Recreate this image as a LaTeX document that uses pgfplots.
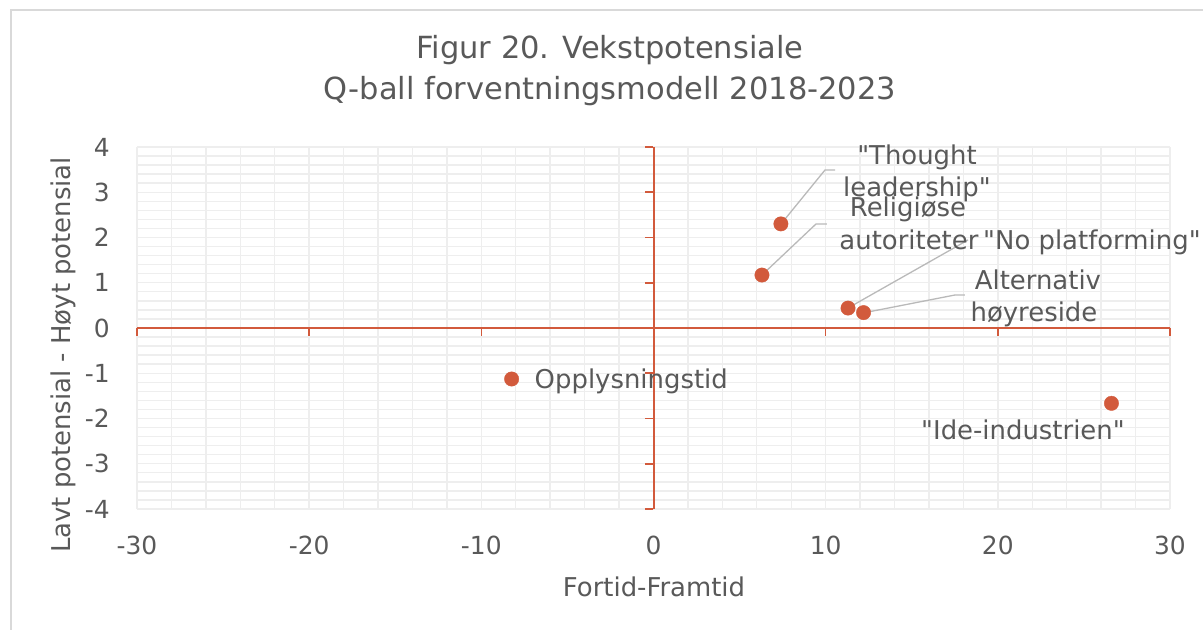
\documentclass[border=0pt]{standalone}
\usepackage{fontspec}
\setmainfont{DejaVu Sans}
\usepackage{pgfplots}
\pgfplotsset{compat=1.18}
\definecolor{pt}{RGB}{210,90,60}
\definecolor{txt}{RGB}{89,89,89}
\definecolor{grd}{RGB}{238,238,238}
\definecolor{lead}{RGB}{185,185,185}
\definecolor{brd}{RGB}{217,217,217}
\newcommand{\lab}{\fontsize{26}{31}\selectfont}
\newcommand{\q}{\textquotedbl}
\begin{document}
\begin{tikzpicture}[x=1bp,y=1bp]
\path[use as bounding box] (0,0) rectangle (1203,630);
\draw[brd, line width=1.5bp] (11,-5) -- (11,620) -- (1210,620);
\node[txt, font=\fontsize{30.6}{36}\selectfont, anchor=base] at (610,571) {Figur 20. Vekstpotensiale};
\node[txt, font=\fontsize{30.6}{36}\selectfont, anchor=base] at (610,530) {Q-ball forventningsmodell 2018-2023};
\begin{axis}[
  at={(137bp,121bp)}, anchor=south west, scale only axis,
  width=1033bp, height=362bp,
  xmin=-30, xmax=30, ymin=-4, ymax=4,
  xtick={-30,-20,...,30}, ytick={-4,-3,...,4},
  minor x tick num=4, minor y tick num=4,
  grid=both, grid style={grd, line width=1.4bp},
  major tick length=0pt, minor tick length=0pt,
  axis line style={draw=none},
  clip=false,
  tick label style={txt, font=\fontsize{25}{30}\selectfont, /pgf/number format/assume math mode=true},
  xticklabel style={anchor=base, yshift=-46bp},
  yticklabel style={anchor=east, inner sep=0pt, xshift=-27bp},
]
% zero axes and ticks
\pgfplotsinvokeforeach{-30,-20,-10,0,10,20,30}{\draw[pt, line width=1.6bp] (axis cs:#1,0) -- ([yshift=-8bp]axis cs:#1,0);}
\pgfplotsinvokeforeach{-4,-3,-2,-1,0,1,2,3,4}{\draw[pt, line width=1.6bp] (axis cs:0,#1) -- ([xshift=-8bp]axis cs:0,#1);}
\draw[pt, line width=1.8bp] (axis cs:-30,0) -- (axis cs:30,0);
\draw[pt, line width=1.8bp] ([xshift=0.3bp]axis cs:0,-4) -- ([xshift=0.3bp]axis cs:0,4);
% leader lines
\draw[lead, line width=1.3bp] (axis cs:7.406,2.298) -- (axis cs:9.963,3.492) -- (axis cs:10.544,3.492);
\draw[lead, line width=1.3bp] (axis cs:6.302,1.171) -- (axis cs:9.438,2.298) -- (axis cs:10.077,2.298);
\draw[lead, line width=1.3bp] (axis cs:11.30,0.442) -- (axis cs:18.27,1.945);
\draw[lead, line width=1.3bp] (axis cs:12.16,0.331) -- (axis cs:17.51,0.729) -- (axis cs:18.09,0.729);
% data
\addplot[only marks, mark=*, mark size=7.2bp, mark options={draw=pt, fill=pt, line width=0.4bp}] coordinates {
  (7.4,2.3) (6.3,1.17) (11.3,0.44) (12.2,0.34) (-8.24,-1.127) (26.6,-1.665)
};
% labels
\node[txt, font=\lab, anchor=base] at (axis cs:15.305,3.602) {\q Thought};
\node[txt, font=\lab, anchor=base] at (axis cs:15.305,2.895) {leadership\q};
\node[txt, font=\lab, anchor=base] at (axis cs:14.78,2.453) {Religiøse};
\node[txt, font=\lab, anchor=base] at (axis cs:14.84,1.724) {autoriteter};
\node[txt, font=\lab, anchor=base west, inner sep=0pt] at (axis cs:19.14,1.724) {\q No platforming\q};
\node[txt, font=\lab, anchor=base] at (axis cs:22.33,0.840) {Alternativ};
\node[txt, font=\lab, anchor=base] at (axis cs:22.10,0.133) {høyreside};
\node[txt, font=\lab, anchor=base west, inner sep=0pt] at (axis cs:-6.91,-1.348) {Opplysningstid};
\node[txt, font=\lab, anchor=base] at (axis cs:21.46,-2.475) {\q Ide-industrien\q};
\end{axis}
\node[txt, font=\lab, anchor=base] at (654,33) {Fortid-Framtid};
\node[txt, font=\lab, anchor=base, rotate=90] at (70,275) {Lavt potensial - Høyt potensial};
\end{tikzpicture}
\end{document}
